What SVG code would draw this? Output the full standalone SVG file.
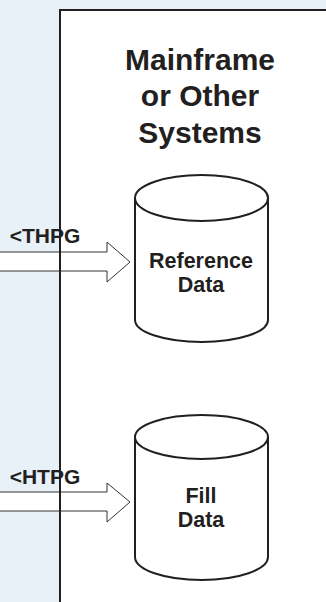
<svg xmlns="http://www.w3.org/2000/svg" width="326" height="602" viewBox="0 0 326 602">
<style>
.t{font-family:"Liberation Sans",Arial,sans-serif;font-weight:bold;fill:#231f20;text-anchor:middle}
.title{font-size:30px}
.lbl{font-size:21px}
.nm{font-size:21.5px}
.cyl{fill:#fff;stroke:#231f20;stroke-width:2}
.arr{fill:#fff;stroke:#333;stroke-width:1}
</style>
<rect x="0" y="0" width="326" height="602" fill="#e8f0f8"/>
<g id="mainframe">
<rect x="60" y="10" width="280" height="600" fill="#fff"/>
</g>
<g id="connectors">
<polygon class="arr" points="-2,252 107,252 107,242 130,262 107,282 107,271 -2,271"/>
<polygon class="arr" points="-2,492 107,492 107,483 130,502 107,522 107,511 -2,511"/>
</g>
<g id="mainframe-border">
<path d="M60,602 V10 H326" fill="none" stroke="#231f20" stroke-width="2"/>
<text class="t title" x="200" y="70">Mainframe</text>
<text class="t title" x="200" y="106">or Other</text>
<text class="t title" x="200" y="143">Systems</text>
</g>
<g id="label-thpg"><text class="t lbl" x="45" y="243">&lt;THPG</text></g>
<g id="label-htpg"><text class="t lbl" x="45" y="484">&lt;HTPG</text></g>
<g id="reference-data">
<path class="cyl" d="M135,198 A66.5,23 0 0 1 268,198 V320 A66.5,22 0 0 1 135,320 Z"/>
<path class="cyl" fill="none" d="M135,198 A66.5,23 0 0 0 268,198"/>
<text class="t nm" x="201" y="268">Reference</text>
<text class="t nm" x="201" y="292">Data</text>
</g>
<g id="fill-data">
<path class="cyl" d="M135,437 A66.5,22 0 0 1 268,437 V557 A66.5,23 0 0 1 135,557 Z"/>
<path class="cyl" fill="none" d="M135,437 A66.5,22 0 0 0 268,437"/>
<text class="t nm" x="201" y="503">Fill</text>
<text class="t nm" x="201" y="527">Data</text>
</g>
</svg>
